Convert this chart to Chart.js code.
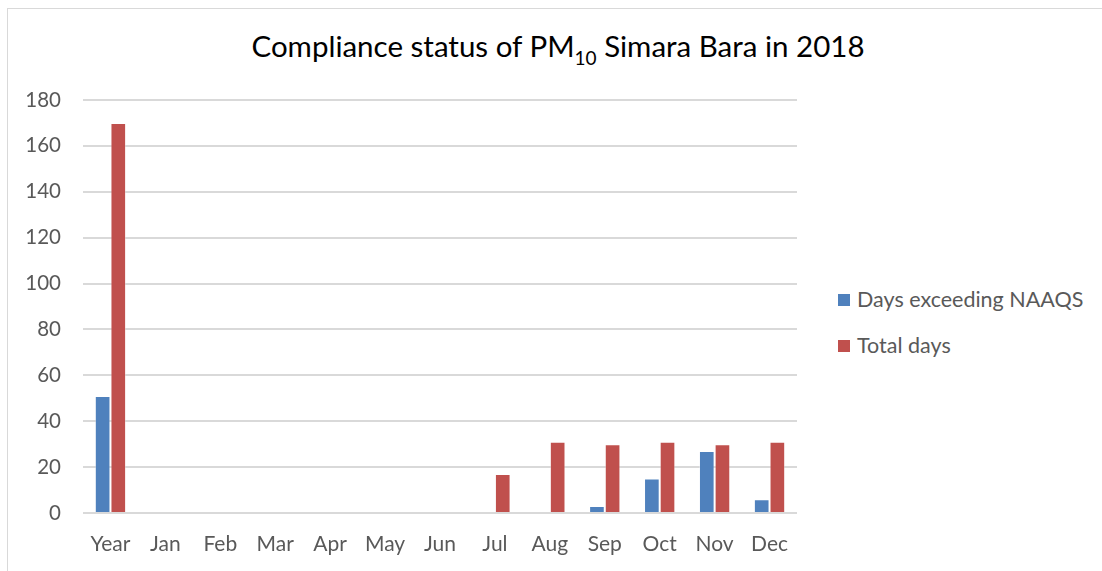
<!DOCTYPE html>
<html>
<head>
<meta charset="utf-8">
<script src="https://cdn.jsdelivr.net/npm/chart.js@4.4.1/dist/chart.umd.min.js"></script>
<style>
    body { margin: 0; background: #fff; font-family: Lato, 'Open Sans', sans-serif; }
    #wrap { position: relative; width: 1102px; height: 571px; overflow: hidden; }
    #frame { position: absolute; left: 7px; top: 8px; width: 1100px; height: 600px; border: 1px solid #d9d9d9; box-sizing: border-box; }
    #title { position: absolute; left: 0; width: 1116px; top: 28px; text-align: center; font-size: 29.5px; color: #000; white-space: nowrap; }
    #title sub { font-size: 19px; vertical-align: -8px; line-height: 0; }
    .legend-item { position: absolute; left: 838px; font-size: 21.5px; color: #595959; white-space: nowrap; }
    .legend-item span { display: inline-block; width: 12px; height: 12px; margin-right: 7px; vertical-align: 1px; }
    canvas { position: absolute; left: 0; top: 0; }
</style>
</head>
<body>
<div id="wrap">
    <div id="frame"></div>
    <div id="title">Compliance status of PM<sub>10</sub> Simara Bara in 2018</div>
    <div class="legend-item" style="top:286px"><span style="background:#4F81BD"></span>Days exceeding NAAQS</div>
    <div class="legend-item" style="top:332px"><span style="background:#C0504D"></span>Total days</div>
    <canvas id="chart" width="1102" height="571"></canvas>
</div>
<script>
// Chart data
const categories = ['Year', 'Jan', 'Feb', 'Mar', 'Apr', 'May', 'Jun', 'Jul', 'Aug', 'Sep', 'Oct', 'Nov', 'Dec'];
const exceedingDays = [51, 0, 0, 0, 0, 0, 0, 0, 0, 3, 15, 27, 6];
const totalDays = [170, 0, 0, 0, 0, 0, 0, 17, 31, 30, 31, 30, 31];
const yTicks = [0, 20, 40, 60, 80, 100, 120, 140, 160, 180];

const ctx = document.getElementById('chart').getContext('2d');

new Chart(ctx, {
    type: 'bar',
    data: {
        labels: categories,
        datasets: [{
            label: 'Days exceeding NAAQS',
            data: exceedingDays,
            backgroundColor: '#4F81BD',
            borderColor: 'rgba(255,255,255,0.35)',
            borderWidth: 1,
            categoryPercentage: 0.57,
            barPercentage: 1.0
        }, {
            label: 'Total days',
            data: totalDays,
            backgroundColor: '#C0504D',
            borderColor: 'rgba(255,255,255,0.35)',
            borderWidth: 1,
            categoryPercentage: 0.57,
            barPercentage: 1.0
        }]
    },
    options: {
        responsive: false,
        animation: false,
        layout: {
            padding: { left: 0, right: 305, top: 100, bottom: 0 }
        },
        plugins: {
            legend: { display: false },
            tooltip: { enabled: false }
        },
        scales: {
            x: {
                grid: { display: false },
                border: { display: false },
                ticks: {
                    color: '#595959',
                    font: { family: 'Lato', size: 21 },
                    padding: 11
                },
                afterFit: function(scale) {
                    scale.height = 58;
                }
            },
            y: {
                min: 0,
                max: 180,
                afterBuildTicks: function(scale) {
                    scale.ticks = yTicks.map(v => ({ value: v }));
                },
                grid: {
                    color: '#d9d9d9',
                    lineWidth: 2,
                    drawTicks: false
                },
                border: { display: false },
                ticks: {
                    color: '#595959',
                    font: { family: 'Lato', size: 20.5 },
                    padding: 22
                },
                afterFit: function(scale) {
                    scale.width = 83;
                }
            }
        }
    }
});
</script>
</body>
</html>
